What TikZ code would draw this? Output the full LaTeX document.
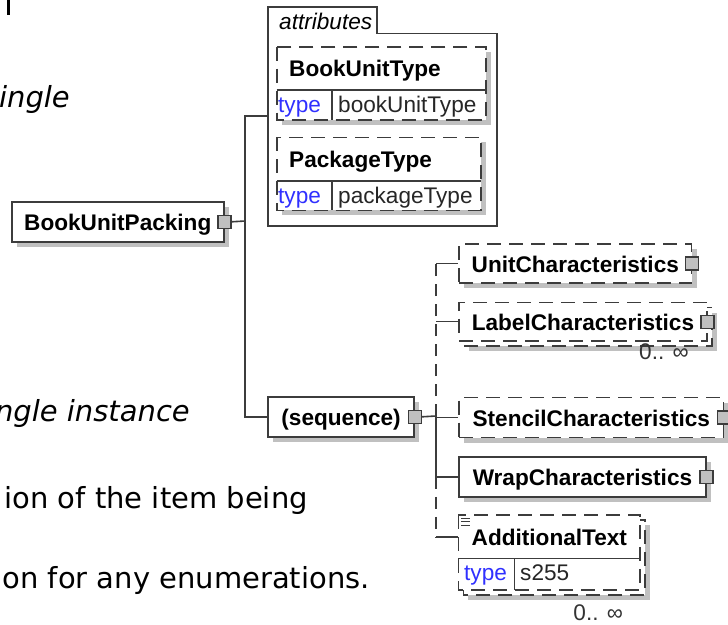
\documentclass[tikz,border=0pt]{standalone}
\usepackage{fontspec}
\setmainfont{Liberation Sans}
\newfontfamily\docfont{DejaVu Sans}
\usepackage{tikz}
\usetikzlibrary{positioning, calc, shadows}

\definecolor{typeblue}{RGB}{48,48,255}
\definecolor{boxline}{RGB}{60,60,60}
\definecolor{shadowgray}{RGB}{192,192,192}

\newcommand{\elemfont}{\fontsize{22.6}{26}\selectfont\bfseries}
\newcommand{\plainfont}{\fontsize{22.6}{26}\selectfont}
\newcommand{\docsize}{\docfont\fontsize{29}{34}\selectfont}

\tikzset{
    elem/.style={draw=boxline, line width=1.6pt, fill=white, font=\elemfont,
        anchor=north west, minimum height=40, inner sep=0pt,
        text height=17.5, text depth=0.5,
        general shadow={fill=shadowgray, shadow xshift=5pt, shadow yshift=-5pt}},
    optelem/.style={elem, dash pattern=on 14pt off 8pt},
    multelem/.style={optelem,
        general shadow={fill=shadowgray, shadow xshift=10pt, shadow yshift=-10pt},
        general shadow={fill=white, draw=boxline, line width=1.6pt,
            dash pattern=on 14pt off 8pt, shadow xshift=5pt, shadow yshift=-5pt}},
    plusbox/.style={draw=boxline, fill=shadowgray, line width=1.3pt,
        minimum size=13, inner sep=0pt},
    conn/.style={draw=boxline, line width=1.6pt},
    optline/.style={conn, dash pattern=on 12pt off 8pt},
    attrframe/.style={draw=boxline, line width=1.6pt},
    attrbox/.style={draw=boxline, line width=1.6pt, fill=white, dash pattern=on 14pt off 8pt},
    cell/.style={draw=boxline, line width=1.6pt},
    attrname/.style={anchor=base west, inner sep=0pt, font=\elemfont},
    tabtext/.style={anchor=base west, inner sep=0pt, font=\plainfont\itshape},
    typelbl/.style={anchor=base west, inner sep=0pt, font=\plainfont, text=typeblue},
    typeval/.style={anchor=base west, inner sep=0pt, font=\plainfont, text=black!85},
    occ/.style={anchor=base east, inner sep=0pt, font=\plainfont, text=black!80},
    doctext/.style={anchor=base east, inner sep=0pt, font=\docsize},
}

\begin{document}
\begin{tikzpicture}[x=1pt, y=-1pt]
        % ============================================================
        % pixel grid 728 x 624, y grows downwards
        % ============================================================
        \clip (0,0) rectangle (728,624);
        \fill[white] (0,0) rectangle (728,624);

        % === 1. DOCUMENT TEXT BEHIND THE DIAGRAM ===
        \fill (7,0) rectangle (10,15);
        \node[doctext, font=\docsize\itshape] (txtA) at (70,107.3) {ingle};
        \node[doctext, font=\docsize\itshape] (txtB) at (190,421.7) {ngle instance};
        \node[doctext] (txtC) at (308,508.3) {ion of the item being};
        \node[doctext] (txtD) at (370,588) {on for any enumerations.};

        % === 2. ROOT ELEMENT ===
        \node[elem, minimum width=212] (root) at (11,201) {BookUnitPacking};
        \node[plusbox] (rootx) at (root.east) {};

        % === 3. ATTRIBUTES GROUP ===
        \draw[attrframe] (268,226) -- (268,6.7) -- (376.7,6.7) -- (376.7,33.3)
            -- (496.7,33.3) -- (496.7,226) -- cycle;
        \node[tabtext] (attrtab) at (279,29.3) {attributes};
        \coordinate (attrpin) at (268,115.7);

        % name row 43.5, type row 29.5
        \foreach \ytop/\w/\aname/\tname [count=\i] in
            {46.7/209.3/BookUnitType/bookUnitType, 137.3/204/PackageType/packageType} {
            \fill[shadowgray] (281.7,\ytop+5) rectangle ++(\w,73);
            \draw[attrbox] (276.7,\ytop) rectangle ++(\w,73);
            \draw[cell] (276.7,\ytop+43.5) -- ++(\w,0);
            \draw[cell] (332,\ytop+43.5) -- ++(0,29.5);
            \node[attrname] (attr\i) at (289,\ytop+30) {\aname};
            \node[typelbl] (type\i) at (278,\ytop+66) {type};
            \node[typeval] (val\i) at (338,\ytop+66) {\tname};
        }

        % === 4. SEQUENCE ===
        \node[elem, minimum width=146] (seq) at (267.3,396) {(sequence)};
        \node[plusbox] (seqx) at (seq.east) {};

        \coordinate (trunkA) at (245,221);
        \draw[conn] (rootx.east) -- (trunkA);
        \draw[conn] (attrpin) -| (trunkA) |- (seq.west);

        % === 5. CHILDREN OF SEQUENCE ===
        \node[optelem, minimum width=232.4, minimum height=39] (unit) at (458.3,243.3)
            {UnitCharacteristics};
        \node[multelem, minimum width=247.7, minimum height=38.3] (label) at (458.3,301.7)
            {LabelCharacteristics};
        \node[optelem, minimum width=264.4] (stencil) at (458.3,396.7)
            {StencilCharacteristics};
        \node[elem, minimum width=246.7] (wrap) at (458.3,456) {WrapCharacteristics};
        \foreach \n in {unit,label,stencil,wrap}
            \node[plusbox] (\n-x) at (\n.east) {};

        % AdditionalText: simple type, 0..oo (copy behind)
        \fill[shadowgray] (468.3,525) rectangle (650,600);
        \draw[attrbox] (463.3,520) rectangle (645,595);
        \draw[attrbox] (458.3,515) rectangle (640,590);
        \draw[cell] (458.3,558.3) -- (640,558.3);
        \draw[cell] (514.3,558.3) -- (514.3,590);
        \foreach \yy in {518,521.5,525}
            \draw[boxline, line width=1pt] (461,\yy) -- (470,\yy);
        \node[font=\elemfont, inner sep=0pt, anchor=north west, minimum width=181.7,
            minimum height=43.3, text height=17.5, text depth=0.5] (addtext)
            at (458.3,515) {AdditionalText};
        \node[typelbl] (type3) at (464,580) {type};
        \node[typeval] (val3) at (520,580) {s255};

        % === 6. TRUNK OF SEQUENCE ===
        \coordinate (trunkB) at (436,416);
        \draw[conn] (seqx.east) -- (trunkB);
        \draw[conn] (trunkB) -- (trunkB |- wrap.west);
        \draw[optline] (trunkB) -- (trunkB |- unit.west);
        \draw[optline] (trunkB |- wrap.west) -- (trunkB |- addtext.west);
        \foreach \n in {unit,label,stencil,wrap,addtext}
            \draw[conn] (trunkB |- \n.west) -- (\n.west);

        % === 7. OCCURRENCES ===
        \node[occ] (labelocc) at (689,359) {0.. ∞};
        \node[occ] (addocc) at (623.3,620.7) {0.. ∞};

\end{tikzpicture}
\end{document}
